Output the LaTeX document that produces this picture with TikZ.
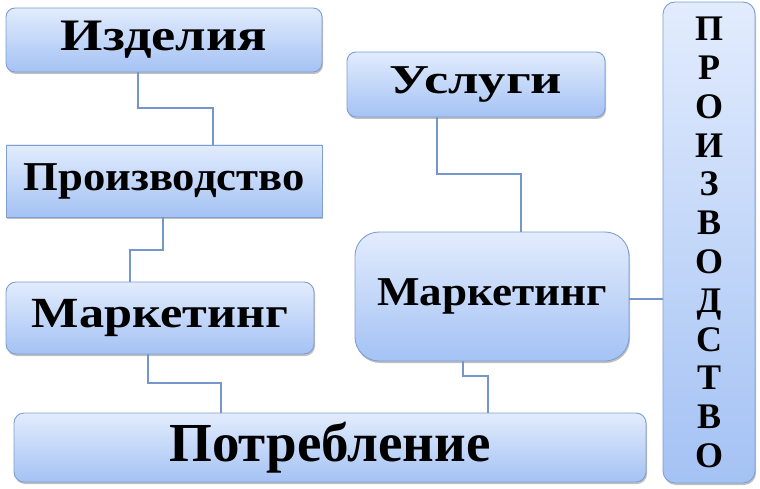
\documentclass[tikz,border=0pt]{standalone}
\usepackage{fontspec}
\usepackage{graphicx}
\setmainfont{Liberation Serif}
\usetikzlibrary{shadows}
\definecolor{boxtop}{HTML}{E2ECFD}
\definecolor{boxbot}{HTML}{A4C2F4}
\definecolor{boxline}{HTML}{7E9FD2}
\definecolor{linkc}{HTML}{7496CD}
\newcommand\boxtxt[3]{\raisebox{-#2pt}{\scalebox{#1}[1]{#3}}}
\begin{document}
\begin{tikzpicture}[x=1pt,y=-1pt,
  box/.style={draw=boxline, line width=0.9pt, top color=boxtop, bottom color=boxbot,
    inner sep=0pt, outer sep=0pt, align=center,
    drop shadow={shadow xshift=1pt, shadow yshift=-2pt, opacity=0.25, fill=black}},
  rbox/.style={box, rounded corners=#1},
  link/.style={draw=linkc, line width=1.1pt}]
\useasboundingbox (0,0) rectangle (760,489);
% boxes
\node[rbox=9pt, minimum width=316pt, minimum height=64pt,
  font=\fontsize{45}{50}\selectfont\bfseries] (A) at (164,40)
  {\boxtxt{1.21}{3}{Изделия}};
\node[box, minimum width=316pt, minimum height=72pt,
  font=\fontsize{41}{46}\selectfont\bfseries] (B) at (164,181)
  {\boxtxt{1.09}{5}{Производство}};
\node[rbox=10pt, minimum width=308pt, minimum height=72pt,
  font=\fontsize{43}{48}\selectfont\bfseries] (C) at (160,318)
  {\boxtxt{1.17}{4}{Маркетинг}};
\node[rbox=10pt, minimum width=632pt, minimum height=69pt,
  font=\fontsize{55}{60}\selectfont\bfseries] (D) at (330,447.5)
  {\boxtxt{1.0}{7}{Потребление}};
\node[rbox=9pt, minimum width=258pt, minimum height=65pt,
  font=\fontsize{41}{46}\selectfont\bfseries] (E) at (476,84.5)
  {\boxtxt{1.33}{5}{Услуги}};
\node[rbox=24pt, minimum width=274pt, minimum height=129pt,
  font=\fontsize{41}{46}\selectfont\bfseries] (F) at (492,296.5)
  {\boxtxt{1.1}{4}{Маркетинг}};
\node[rbox=12pt, minimum width=92pt, minimum height=481pt,
  font=\fontsize{36}{38.8}\selectfont\bfseries] (G) at (709,242.5)
  {П\\Р\\О\\И\\З\\В\\О\\Д\\С\\Т\\В\\О};
% connectors
\draw[link] (A.south -| 138,0) -- ++(0,36) -| (B.north -| 213,0);
\draw[link] (B.south -| 163,0) -- ++(0,33) -| (C.north -| 130,0);
\draw[link] (C.south -| 148,0) -- ++(0,29) -| (D.north -| 221,0);
\draw[link] (E.south -| 437,0) -- ++(0,57) -| (F.north -| 521,0);
\draw[link] (F.south -| 463,0) -- ++(0,15) -| (D.north -| 488,0);
\draw[link] (F.east |- 0,299) -- (G.west |- 0,299);
\end{tikzpicture}
\end{document}
